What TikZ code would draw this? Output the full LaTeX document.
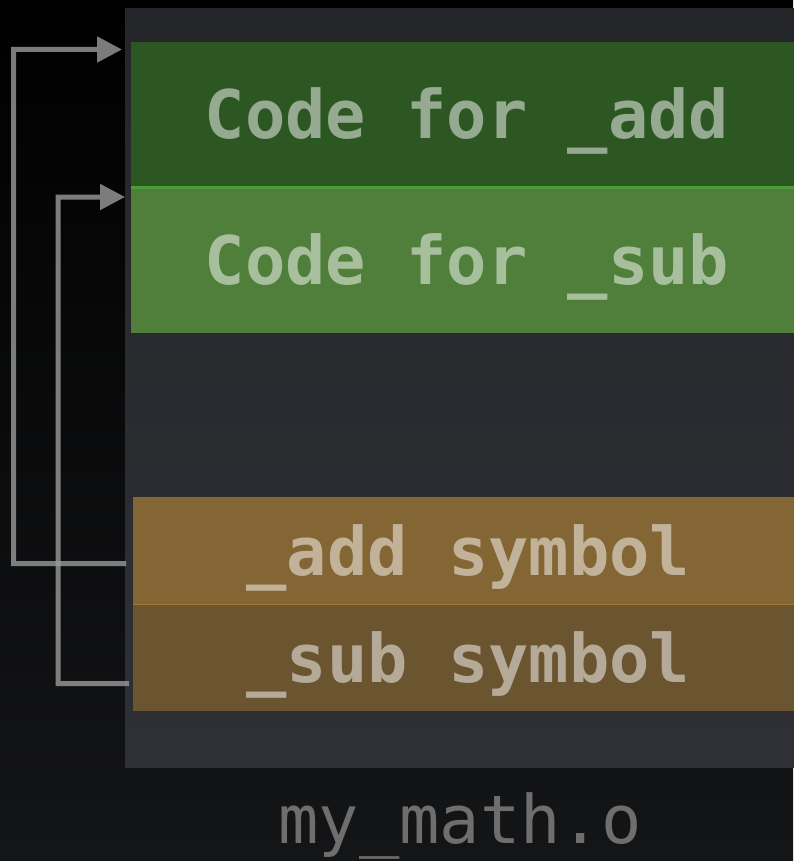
\documentclass[tikz,border=0pt]{standalone}
\usepackage{fontspec}
\setmonofont{DejaVu Sans Mono}
\usetikzlibrary{arrows.meta, positioning, calc, backgrounds}
\definecolor{bgtop}{HTML}{000000}
\definecolor{bgbottom}{HTML}{141517}
\definecolor{paneltop}{HTML}{24262A}
\definecolor{panelbottom}{HTML}{2E3035}
\definecolor{addgreen}{HTML}{2C5622}
\definecolor{subgreen}{HTML}{4F7F3A}
\definecolor{greenline}{HTML}{4C9A38}
\definecolor{addsymcol}{HTML}{836634}
\definecolor{subsymcol}{HTML}{6B5430}
\definecolor{symline}{HTML}{A07834}
\definecolor{linkgray}{HTML}{9A9A9A}
\definecolor{namegray}{HTML}{6E6E6E}
\tikzset{
  blk/.style={anchor=north west, inner sep=0pt, outer sep=0pt, text=white, text opacity=0.5,
    font=\ttfamily\bfseries\fontsize{67}{67}\selectfont, text height=49pt, text depth=0pt},
  link/.style={draw=linkgray, line width=5pt, -{Triangle[length=25pt,width=25pt]}},
  linkgroup/.style={transparency group, opacity=0.8}
}
\begin{document}
\begin{tikzpicture}[x=1pt,y=-1pt]
  \useasboundingbox (0,0) rectangle (793,861);
  \shade[top color=bgtop, bottom color=bgbottom] (0,0) rectangle (793,861);

  \node[anchor=north west, inner sep=0pt, outer sep=0pt, minimum width=680pt, minimum height=758pt,
        top color=paneltop, bottom color=panelbottom] (objfile) at (125,9) {};

  % code section
  \node[blk, fill=addgreen, minimum width=672pt, minimum height=144pt] (addcode) at (131,42) {Code for \_add};
  \node[blk, fill=subgreen, minimum width=672pt, minimum height=147pt] (subcode) at (131,186) {Code for \_sub};
  \draw[greenline, line width=3pt] ([yshift=-1.5pt]subcode.north west) -- ([yshift=-1.5pt]subcode.north east);

  % symbol table
  \node[blk, fill=addsymcol, minimum width=671pt, minimum height=107pt] (addsym) at (133,497) {\_add symbol};
  \node[blk, fill=subsymcol, minimum width=671pt, minimum height=107pt] (subsym) at (133,604) {\_sub symbol};
  \draw[symline, line width=1pt] (subsym.north west) -- (subsym.north east);

  \node[anchor=base, inner sep=0pt, text=namegray, font=\ttfamily\fontsize{67}{67}\selectfont]
    (objname) at (460,843) {my\_math.o};

  \begin{scope}[linkgroup]
    \draw[link, shorten <=7pt, shorten >=9pt] ([yshift=-13pt]addsym.west) -- ++(-119.5,0) |- ([yshift=-7.5pt]addcode.north west);
  \end{scope}
  \begin{scope}[linkgroup]
    \draw[link, shorten <=4pt, shorten >=6pt] ([yshift=-26pt]subsym.west) -- ++(-75,0) |- ([yshift=-11pt]subcode.north west);
  \end{scope}
\end{tikzpicture}
\end{document}
